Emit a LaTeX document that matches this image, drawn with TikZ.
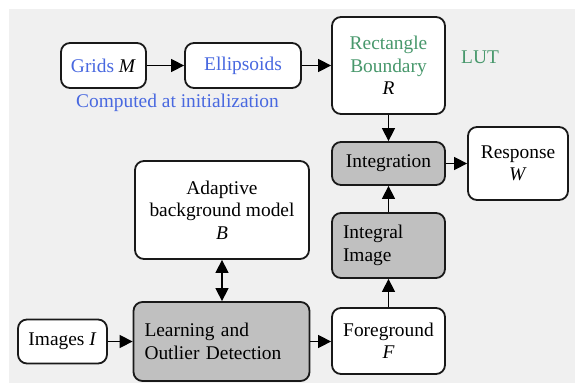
\documentclass[tikz,border=0pt]{standalone}
\usepackage{fontspec}
\setmainfont{LiberationSerif}[Extension=.ttf,UprightFont=*-Regular,ItalicFont=*-Italic,BoldFont=*-Bold]
\usetikzlibrary{arrows.meta}
\definecolor{bgc}{RGB}{240,240,240}
\definecolor{bordc}{RGB}{25,25,25}
\definecolor{grayfill}{RGB}{192,192,192}
\definecolor{bluet}{RGB}{72,104,224}
\definecolor{greent}{RGB}{72,152,108}
\begin{document}
\begin{tikzpicture}[x=1pt,y=-1pt,
  every node/.style={font=\fontsize{19.4}{22.5}\selectfont},
  box/.style={draw=bordc,line width=1.8pt,rounded corners=9pt,fill=white,inner sep=0pt,align=center},
  graybox/.style={box,fill=grayfill},
  leftbox/.style={graybox,align=left,inner xsep=11pt},
  conn/.style={line width=1.5pt,draw=black,-{Triangle[length=13pt,width=13pt]}},
  dconn/.style={line width=1.5pt,draw=black,{Triangle[length=13pt,width=13pt]}-{Triangle[length=13pt,width=13pt]}}]
\useasboundingbox (0,0) rectangle (575,385);
\fill[bgc] (9,9) rectangle (575,383);
% top row
\node[box,minimum width=85pt,minimum height=45pt] (grids) at (103.5,65.5) {\textcolor{bluet}{Grids} \textit{M}};
\node[box,minimum width=116pt,minimum height=45pt] (ell) at (243,65.5) {\textcolor{bluet}{Ellipsoids}};
\node[box,minimum width=113pt,minimum height=97pt] (rect) at (388.5,65.5) {\textcolor{greent}{Rectangle}\\\textcolor{greent}{Boundary}\\\textit{R}};
\node[text=greent,inner sep=0pt] (lut) at (480,57) {LUT};
\node[text=bluet,inner sep=0pt] (comp) at (177.5,103) {Computed at initialization};
% middle
\node[graybox,minimum width=113pt,minimum height=43pt] (integ) at (388.5,163.5) {Integration};
\node[box,minimum width=100pt,minimum height=73pt] (resp) at (518,163.5) {Response\\\textit{W}};
\node[box,minimum width=174pt,minimum height=98pt] (adapt) at (222,210) {Adaptive\\background model\\\textit{B}};
\node[leftbox,text width=91pt,minimum height=65pt] (iimg) at (388.5,245.5) {Integral\\Image};
% bottom
\node[box,minimum width=89pt,minimum height=44pt] (images) at (62.5,341.5) {Images \textit{I}};
\node[leftbox,text width=154pt,minimum height=79pt] (learn) at (221.5,341.5) {Learning and\\Outlier Detection\\[8pt]};
\node[box,minimum width=113pt,minimum height=66pt] (fg) at (388.5,341) {Foreground\\\textit{F}};
% connectors
\draw[conn] (grids) -- (ell);
\draw[conn] (ell) -- (rect);
\draw[conn] (rect) -- (integ);
\draw[conn] (integ) -- (resp);
\draw[conn] (iimg) -- (integ);
\draw[conn] (fg) -- (iimg);
\draw[conn] (images) -- (learn);
\draw[conn] (learn.east) -- (fg.west |- learn.east);
\draw[dconn] (adapt.south) -- (adapt.south |- learn.north);
\end{tikzpicture}
\end{document}
